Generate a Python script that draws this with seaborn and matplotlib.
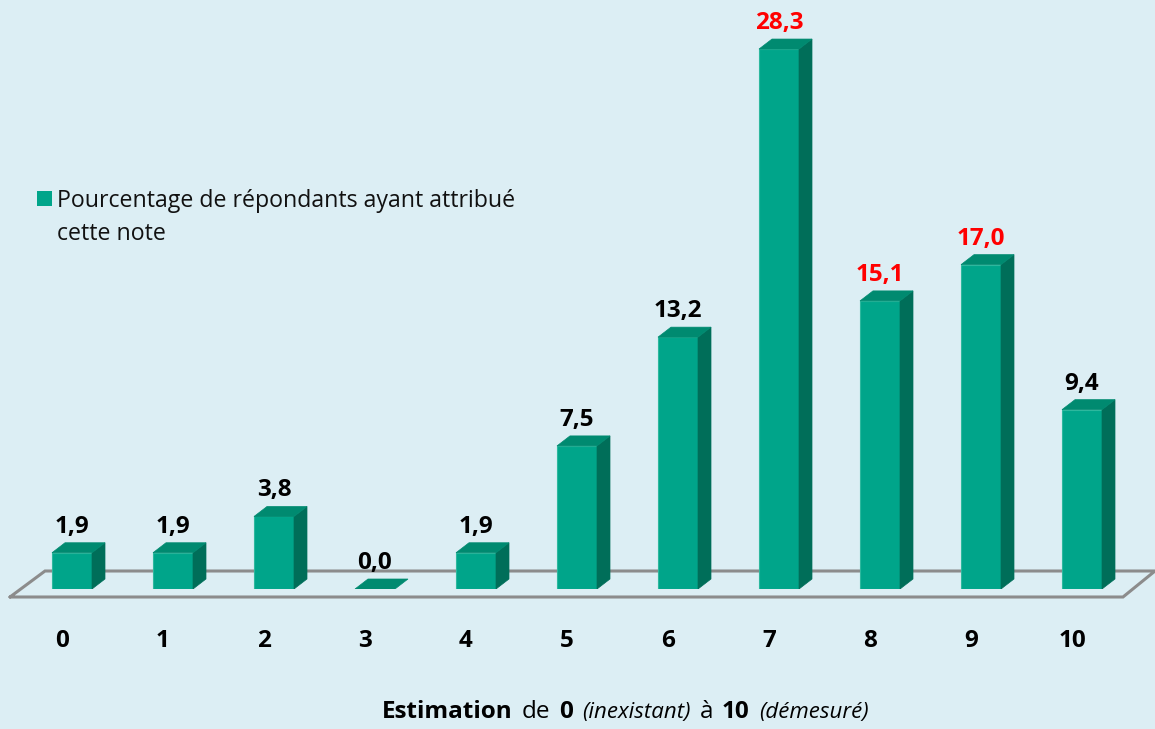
import numpy as np
import pandas as pd
import matplotlib
matplotlib.use("Agg")
import matplotlib.pyplot as plt
import seaborn as sns
from matplotlib.patches import Polygon, Rectangle
from matplotlib.lines import Line2D
from matplotlib.offsetbox import TextArea, HPacker, AnnotationBbox
from matplotlib.transforms import ScaledTranslation

# ---------------- data ----------------
categories = ["0", "1", "2", "3", "4", "5", "6", "7", "8", "9", "10"]
values = [1.9, 1.9, 3.8, 0.0, 1.9, 7.5, 13.2, 28.3, 15.1, 17.0, 9.4]
label_colors = ["black", "black", "black", "black", "black", "black", "black",
                "#FF0000", "#FF0000", "#FF0000", "black"]
legend_lines = ["Pourcentage de répondants ayant attribué", "cette note"]

# ---------------- style ----------------
BG = "#DCEEF4"
FRONT = "#00A58A"
EDGE = "#2DB89E"
TOP = "#008A70"
SIDE = "#006E59"
FLOOR = "#8C8C8C"

sns.set_style("white")
plt.rcParams["font.family"] = ["Open Sans", "DejaVu Sans"]

W, H = 1155, 729
fig = plt.figure(figsize=(W / 100, H / 100), dpi=100, facecolor=BG)
BASE_PX = 589          # baseline (pixels from top)
X0_PX = 72             # center of first bar
STEP_PX = 101          # spacing between bars
PX_PER_UNIT = 19.08    # vertical scale

ax = fig.add_axes([0, (H - BASE_PX) / H, 1, BASE_PX / H])
ax.set_facecolor("none")

df = pd.DataFrame({"note": categories, "pct": values})
sns.barplot(data=df, x="note", y="pct", order=categories, color=FRONT,
            saturation=1, width=40 / STEP_PX, edgecolor=EDGE, linewidth=0.8,
            ax=ax, zorder=3)

ax.set_xlim(-X0_PX / STEP_PX, (W - X0_PX) / STEP_PX)
ax.set_ylim(0, BASE_PX / PX_PER_UNIT)
for s in ax.spines.values():
    s.set_visible(False)
ax.set_yticks([])
ax.set_xlabel("")
ax.set_ylabel("")
ax.tick_params(axis="x", length=0, pad=29, labelsize=17.5)
shift = ScaledTranslation(-10 / 100, 0, fig.dpi_scale_trans)
for lab in ax.get_xticklabels():
    lab.set_fontweight("bold")
    lab.set_color("black")
    lab.set_transform(lab.get_transform() + shift)


def px2data(px, py):
    return ((px - X0_PX) / STEP_PX, (BASE_PX - py) / PX_PER_UNIT)


# floor (3D plane)
floor_pts = [px2data(10, 597), px2data(45, 571), px2data(1155, 571),
             px2data(1123, 597), px2data(10, 597)]
fx, fy = zip(*floor_pts)
ax.add_line(Line2D(fx, fy, color=FLOOR, lw=2.2, zorder=1, clip_on=False,
                   solid_joinstyle="miter"))

# 3D faces
DX, DY = 13, 10
to_disp = ax.transData.transform
to_data = ax.transData.inverted().transform
for p, v, c in zip(ax.patches, values, label_colors):
    x0 = p.get_x()
    x1 = x0 + p.get_width()
    h = p.get_height()
    a = to_disp([(x0, 0), (x1, 0), (x1, h), (x0, h)])
    (bl, br, tr, tl) = a
    off = np.array([DX, DY])
    side = to_data(np.array([br, tr, tr + off, br + off]))
    top = to_data(np.array([tl, tr, tr + off, tl + off]))
    if h > 0:
        ax.add_patch(Polygon(side, closed=True, facecolor=SIDE, edgecolor=SIDE,
                             lw=0.5, zorder=3))
    ax.add_patch(Polygon(top, closed=True, facecolor=TOP, edgecolor=TOP,
                         lw=0.5, zorder=3.5))
    ax.annotate(f"{v:.1f}".replace(".", ","), xy=(x0 + p.get_width() / 2, h),
                xytext=(0, 20 * 0.72), textcoords="offset points",
                ha="center", va="baseline", fontsize=17.5, fontweight="bold",
                color=c, zorder=5, annotation_clip=False)

# legend (manual, first line aligned with marker)
fig.add_artist(Rectangle((37 / W, 1 - 206 / H), 15 / W, 15 / H,
                         transform=fig.transFigure, facecolor=FRONT,
                         edgecolor="none"))
fig.text(57 / W, 1 - 207 / H, legend_lines[0], fontsize=16.7, va="baseline",
         ha="left", color="#111111")
fig.text(57 / W, 1 - 240 / H, legend_lines[1], fontsize=16.7, va="baseline",
         ha="left", color="#111111")

# x axis title with mixed styles
big = dict(fontsize=17.5, color="black")
small = dict(fontsize=16, color="black", fontstyle="italic")
parts = [
    TextArea("Estimation", textprops=dict(big, fontweight="bold")),
    TextArea("de", textprops=big),
    TextArea("0", textprops=dict(big, fontweight="bold")),
    TextArea("(inexistant)", textprops=small),
    TextArea("à", textprops=big),
    TextArea("10", textprops=dict(big, fontweight="bold")),
    TextArea("(démesuré)", textprops=small),
]
pack = HPacker(children=parts, align="baseline", pad=0, sep=6.5)
ab = AnnotationBbox(pack, (625 / W, 1 - 712 / H), xycoords="figure fraction",
                    frameon=False, box_alignment=(0.5, 0.5), pad=0)
fig.add_artist(ab)

fig.savefig("out.png", dpi=100, facecolor=BG)
